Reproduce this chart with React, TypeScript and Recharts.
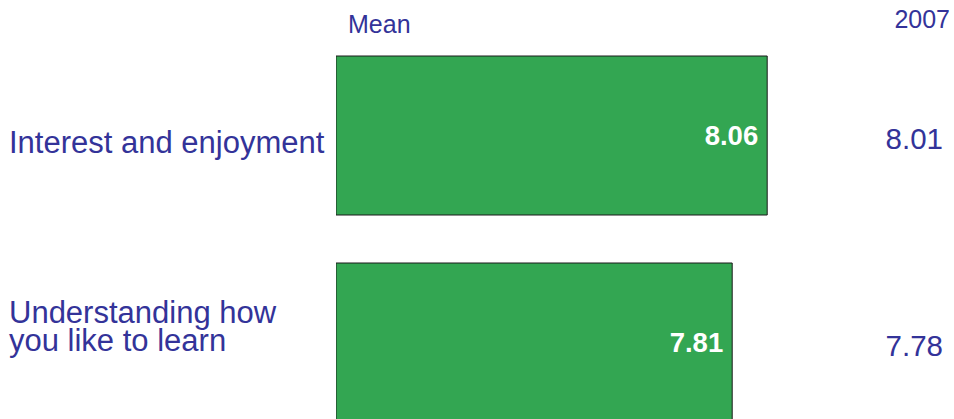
import { BarChart, Bar, XAxis, YAxis, LabelList, Customized } from 'recharts';

const categories = ['Interest and enjoyment', 'Understanding how\nyou like to learn'];
const meanValues = [8.06, 7.81];
const values2007 = [8.01, 7.78];

const TEXT = '#333399';
const FONT = '"Liberation Sans", Arial, sans-serif';

const chartData = categories.map((name, i) => ({
  name,
  mean: meanValues[i],
  prev: values2007[i],
}));

function LeftTick({ y, payload }: any) {
  const lines = String(payload.value).split('\n');
  const first = lines.length > 1 ? -19.5 : 17;
  return (
    <text x={9} y={y} fill={TEXT} fontSize={31} fontFamily={FONT} textAnchor="start">
      {lines.map((line, i) => (
        <tspan key={i} x={9} dy={i === 0 ? first : 28}>
          {line}
        </tspan>
      ))}
    </text>
  );
}

function RightTick({ y, payload }: any) {
  const row = chartData.find((d) => d.name === payload.value);
  return (
    <text x={943} y={y + 13.5} fill={TEXT} fontSize={29.5} fontFamily={FONT} textAnchor="end">
      {row ? row.prev.toFixed(2) : ''}
    </text>
  );
}

function Headers() {
  return (
    <g fontFamily={FONT} fill={TEXT}>
      <text x={348} y={33} fontSize={25}>
        Mean
      </text>
      <text x={950} y={28} fontSize={25} textAnchor="end">
        2007
      </text>
    </g>
  );
}

export default function App() {
  return (
    <div
      style={{
        position: 'absolute',
        left: 0,
        top: 0,
        width: 954,
        height: 419,
        overflow: 'hidden',
        background: '#fff',
      }}
    >
      <BarChart
        width={954}
        height={446}
        data={chartData}
        layout="vertical"
        margin={{ top: 32, right: 0, left: 0, bottom: 0 }}
        barCategoryGap={24}
      >
        <XAxis type="number" hide domain={[4.98, 8.48]} allowDataOverflow />
        <YAxis
          type="category"
          dataKey="name"
          width={336}
          axisLine={false}
          tickLine={false}
          tick={<LeftTick />}
        />
        <YAxis
          yAxisId="right"
          orientation="right"
          type="category"
          dataKey="name"
          width={128}
          axisLine={false}
          tickLine={false}
          tick={<RightTick />}
        />
        <Bar dataKey="mean" fill="#33A652" stroke="#1a1a1a" strokeWidth={1} isAnimationActive={false}>
          <LabelList
            dataKey="mean"
            position="insideRight"
            offset={9}
            fill="#ffffff"
            fontSize={27.5}
            fontWeight="bold"
            fontFamily={FONT}
            formatter={(v: any) => Number(v).toFixed(2)}
          />
        </Bar>
        <Customized component={<Headers />} />
      </BarChart>
    </div>
  );
}
